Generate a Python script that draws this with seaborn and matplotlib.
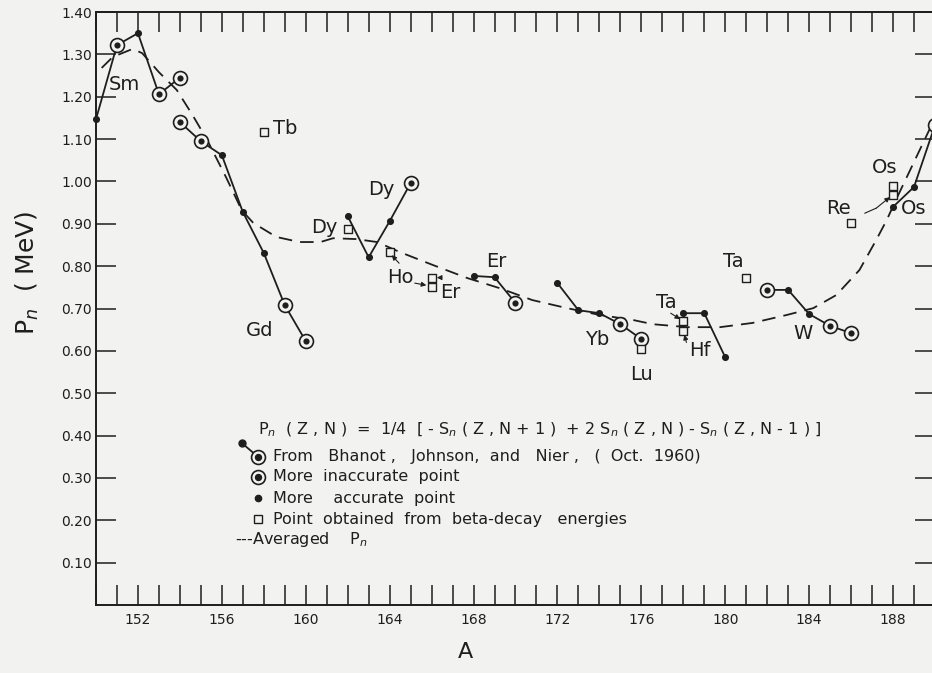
import numpy as np
import pandas as pd
import matplotlib
matplotlib.use("Agg")
import matplotlib.pyplot as plt
from matplotlib.ticker import MultipleLocator, FuncFormatter
import seaborn as sns

# ---- isotope chains: mass number A and pairing energy P_n (MeV) ----
sm_A = [150, 151, 152, 153, 154]
sm_P = [1.147, 1.322, 1.350, 1.206, 1.245]
sm_kind = ["acc", "inacc", "acc", "inacc", "inacc"]

gd_A = [154, 155, 156, 157, 158, 159, 160]
gd_P = [1.140, 1.095, 1.062, 0.928, 0.831, 0.708, 0.623]
gd_kind = ["inacc", "inacc", "acc", "acc", "acc", "inacc", "inacc"]

dy_A = [162, 163, 164, 165]
dy_P = [0.918, 0.821, 0.906, 0.996]
dy_kind = ["acc", "acc", "acc", "inacc"]

er_A = [168, 169, 170]
er_P = [0.777, 0.774, 0.713]
er_kind = ["acc", "acc", "inacc"]

yb_A = [172, 173, 174, 175, 176]
yb_P = [0.760, 0.696, 0.689, 0.663, 0.628]
yb_kind = ["acc", "acc", "acc", "inacc", "inacc"]

hf_A = [178, 179, 180]
hf_P = [0.689, 0.689, 0.585]
hf_kind = ["acc", "acc", "acc"]

w_A = [182, 183, 184, 185, 186]
w_P = [0.744, 0.744, 0.687, 0.659, 0.642]
w_kind = ["inacc", "acc", "acc", "inacc", "inacc"]

os_A = [188, 189, 190]
os_P = [0.940, 0.987, 1.133]
os_kind = ["acc", "acc", "inacc"]

# ---- values from beta-decay energies ----
beta_A = [158, 162, 164, 166, 166, 176, 178, 178, 181, 186, 188, 188]
beta_P = [1.117, 0.888, 0.833, 0.772, 0.751, 0.604, 0.670, 0.647, 0.772, 0.902, 0.989, 0.968]

# ---- averaged P_n curve ----
avg_A = [150.27, 150.8, 151.75, 152.2, 153.0, 153.85, 154.6, 155.3, 156.2, 156.95,
         157.5, 158.6, 159.7, 160.7, 161.3, 162.4, 163.4, 164.5, 166.05, 167.7,
         169.25, 170.8, 172.45, 174.0, 175.6, 176.55, 178.2, 179.75, 181.3, 182.95,
         184.2, 185.3, 186.4, 187.2, 187.7, 188.2, 189.5, 190.0]
avg_P = [1.268, 1.294, 1.313, 1.303, 1.258, 1.216, 1.157, 1.098, 1.010, 0.932,
         0.902, 0.869, 0.857, 0.857, 0.866, 0.864, 0.857, 0.833, 0.803, 0.772,
         0.748, 0.720, 0.701, 0.685, 0.673, 0.663, 0.656, 0.656, 0.666, 0.685,
         0.701, 0.732, 0.791, 0.862, 0.909, 0.963, 1.098, 1.150]

x_ticks_labelled = [152, 156, 160, 164, 168, 172, 176, 180, 184, 188]

chains = {
    "Sm": (sm_A, sm_P, sm_kind), "Gd": (gd_A, gd_P, gd_kind),
    "Dy": (dy_A, dy_P, dy_kind), "Er": (er_A, er_P, er_kind),
    "Yb": (yb_A, yb_P, yb_kind), "Hf": (hf_A, hf_P, hf_kind),
    "W": (w_A, w_P, w_kind), "Os": (os_A, os_P, os_kind),
}
df = pd.concat(
    [pd.DataFrame({"group": g, "A": a, "P": p, "kind": k}) for g, (a, p, k) in chains.items()],
    ignore_index=True,
)
beta = pd.DataFrame({"A": beta_A, "P": beta_P})
avg = pd.DataFrame({"A": avg_A, "P": avg_P})

bg = "#f2f2f0"
ink = "#1e1e1e"

sns.set_theme(style="white")
plt.rcParams["font.family"] = ["DejaVu Sans"]
plt.rcParams["mathtext.fontset"] = "dejavusans"
plt.rcParams["text.color"] = ink

fig = plt.figure(figsize=(9.32, 6.73), dpi=100, facecolor=bg)
ax = fig.add_axes([0.1030, 0.1010, 0.9002, 0.8811])
ax.set_facecolor(bg)

# averaged curve
sns.lineplot(data=avg, x="A", y="P", sort=False, estimator=None, color=ink,
             lw=1.3, linestyle=(0, (7.5, 4.5)), ax=ax, zorder=2)

# measured chains
sns.lineplot(data=df, x="A", y="P", units="group", estimator=None, sort=False,
             color=ink, lw=1.3, ax=ax, legend=False, zorder=3)

acc = df[df["kind"] == "acc"]
inacc = df[df["kind"] == "inacc"]
sns.scatterplot(data=acc, x="A", y="P", s=26, color=ink, linewidth=0, ax=ax, zorder=5, clip_on=False)
sns.scatterplot(data=inacc, x="A", y="P", s=100, color=bg, edgecolor=ink, linewidth=1.2,
                ax=ax, zorder=5, clip_on=False)
sns.scatterplot(data=inacc, x="A", y="P", s=20, color=ink, linewidth=0, ax=ax, zorder=6, clip_on=False)
sns.scatterplot(data=beta, x="A", y="P", marker="s", s=30, color=bg, edgecolor=ink,
                linewidth=1.0, ax=ax, zorder=5)

# element names
lab_fs = 14
element_text = [
    ("Sm", 151.37, 1.228), ("Tb", 159.0, 1.126), ("Gd", 157.8, 0.649),
    ("Dy", 163.6, 0.980), ("Dy", 160.9, 0.892), ("Ho", 164.5, 0.774),
    ("Er", 166.9, 0.739), ("Er", 169.1, 0.810), ("Yb", 173.9, 0.628),
    ("Lu", 176.0, 0.545), ("Ta", 177.2, 0.715), ("Hf", 178.8, 0.602),
    ("Ta", 180.4, 0.810), ("W", 183.7, 0.642), ("Re", 185.4, 0.937),
    ("Os", 187.6, 1.034), ("Os", 189.0, 0.937),
]
for name, xa, ya in element_text:
    ax.text(xa, ya, name, fontsize=lab_fs, ha="center", va="center", color=ink, zorder=7)

arrow_kw = dict(arrowstyle="-|>", lw=0.8, color=ink, mutation_scale=7, shrinkA=0, shrinkB=0)
for (x0, y0), (x1, y1) in [
    ((164.45, 0.807), (164.1, 0.826)),   # Ho
    ((165.2, 0.760), (165.75, 0.755)),   # Ho -> Er
    ((166.45, 0.773), (166.25, 0.773)),  # Er
    ((177.4, 0.689), (177.85, 0.675)),   # Ta
    ((178.15, 0.620), (178.05, 0.638)),  # Hf
    ((187.2, 0.937), (187.85, 0.963)),   # Re -> Os
]:
    ax.annotate("", xy=(x1, y1), xytext=(x0, y0), arrowprops=arrow_kw, zorder=7)
ax.plot([186.65, 187.2], [0.925, 0.937], color=ink, lw=0.8, zorder=7)

# key
tr = ax.transAxes
key_fs = 11.5
ax.text(0.193, 0.295,
        r"P$_n$  ( Z , N )  =  1/4  [ - S$_n$ ( Z , N + 1 )  + 2 S$_n$ ( Z , N ) - S$_n$ ( Z , N - 1 ) ]",
        transform=tr, fontsize=key_fs, va="center", ha="left")
ax.plot([0.174, 0.193], [0.273, 0.250], transform=tr, color=ink, lw=1.3)
ax.plot([0.174], [0.273], "o", transform=tr, ms=5, color=ink)
for fy in (0.250, 0.216):
    ax.plot([0.193], [fy], "o", transform=tr, ms=10, mfc=bg, mec=ink, mew=1.2)
    ax.plot([0.193], [fy], "o", transform=tr, ms=4.3, color=ink)
ax.plot([0.193], [0.180], "o", transform=tr, ms=4.5, color=ink)
ax.plot([0.193], [0.145], "s", transform=tr, ms=5.5, mfc=bg, mec=ink, mew=1.0)
ax.text(0.211, 0.250, "From   Bhanot ,   Johnson,  and   Nier ,   (  Oct.  1960)", transform=tr,
        fontsize=key_fs, va="center")
ax.text(0.211, 0.216, "More  inaccurate  point", transform=tr, fontsize=key_fs, va="center")
ax.text(0.211, 0.180, "More    accurate  point", transform=tr, fontsize=key_fs, va="center")
ax.text(0.211, 0.145, "Point  obtained  from  beta-decay   energies", transform=tr,
        fontsize=key_fs, va="center")
ax.text(0.166, 0.110, r"---Averaged    P$_n$", transform=tr, fontsize=key_fs, va="center")

# axes
ax.set_xlim(150, 190)
ax.set_ylim(0, 1.40)
ax.xaxis.set_major_locator(MultipleLocator(1))
ax.xaxis.set_major_formatter(FuncFormatter(
    lambda v, p: str(int(round(v))) if int(round(v)) in x_ticks_labelled else ""))
ax.set_yticks(np.round(np.arange(0.1, 1.401, 0.1), 2))
ax.yaxis.set_major_formatter(FuncFormatter(lambda v, p: f"{v:.2f}"))
ax.tick_params(axis="both", direction="in", length=14.4, width=1.1, color=ink,
               labelcolor=ink, top=True, right=True, bottom=True, left=True, labelsize=10)
ax.tick_params(axis="x", pad=6)
ax.tick_params(axis="y", pad=3)
for sp in ax.spines.values():
    sp.set_color(ink)
    sp.set_linewidth(1.4)

ax.set_xlabel("A", fontsize=16, color=ink)
ax.xaxis.set_label_coords(0.44, -0.062)
ax.set_ylabel(r"P$_n$  ( MeV)", fontsize=18, color=ink)
ax.yaxis.set_label_coords(-0.065, 0.56)

fig.savefig("out.png", dpi=100, facecolor=bg)
